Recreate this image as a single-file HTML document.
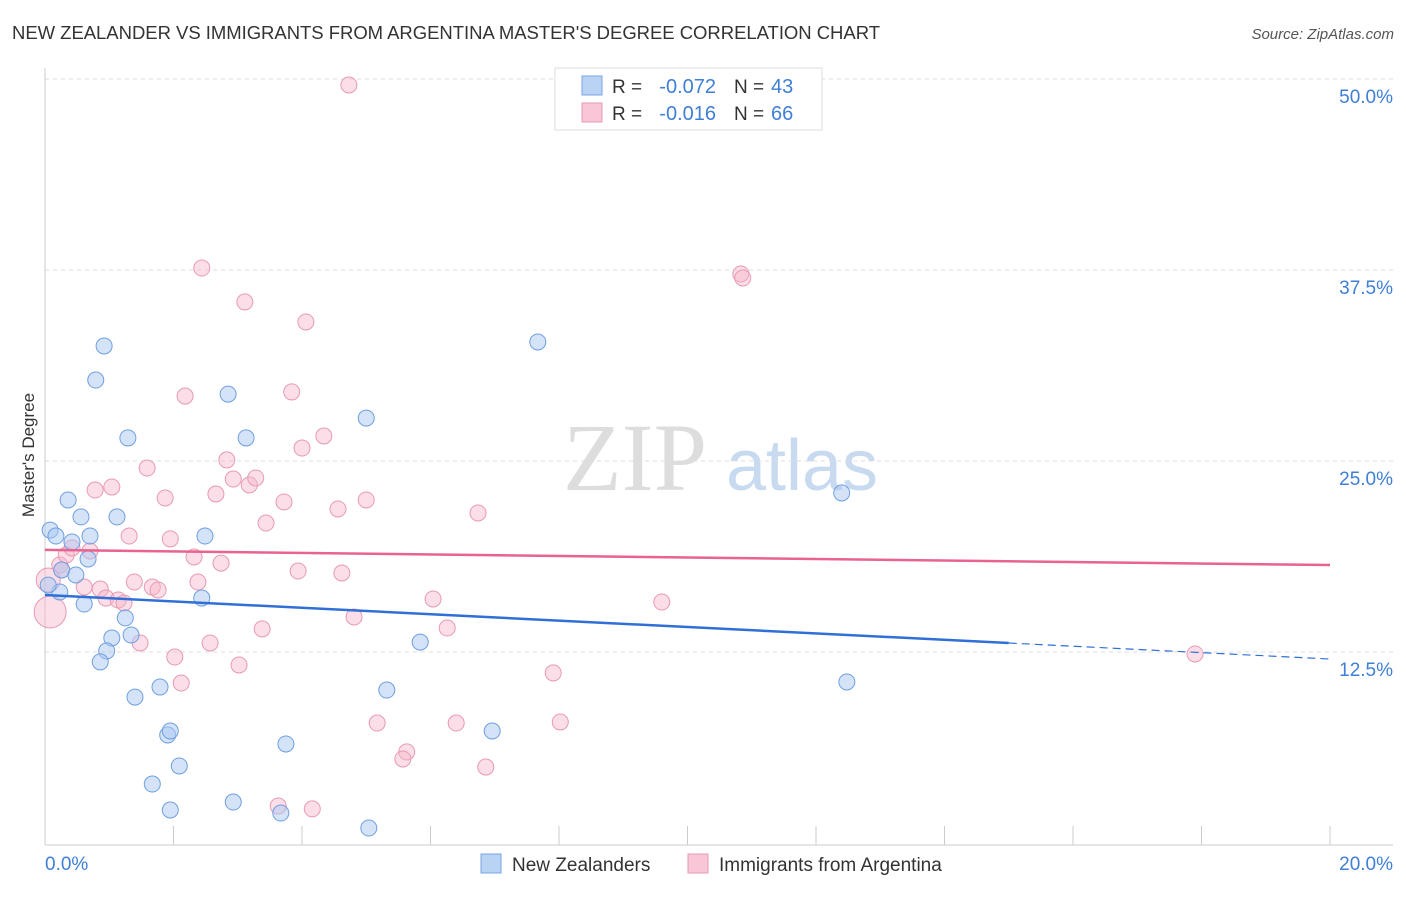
<!DOCTYPE html>
<html><head><meta charset="utf-8"><style>
body{margin:0;background:#fff;font-family:"Liberation Sans",sans-serif;}
</style></head><body>
<svg id="chart" width="1406" height="892" xmlns="http://www.w3.org/2000/svg">
<text x="12" y="39" font-size="18.5" fill="#333" textLength="868">NEW ZEALANDER VS IMMIGRANTS FROM ARGENTINA MASTER'S DEGREE CORRELATION CHART</text>
<text x="1394" y="39" font-size="15" fill="#555" font-style="italic" text-anchor="end">Source: ZipAtlas.com</text>
<g>
<text x="635" y="490" font-size="96" fill="#ddd" font-family="Liberation Serif" text-anchor="middle">ZIP</text>
<text x="802" y="490" font-size="72" fill="#c8daf0" text-anchor="middle">atlas</text>
</g>
<g id="grid"></g>
<g id="axes"></g>
<g id="marks"></g>
<text transform="translate(34,455) rotate(-90)" font-size="17" fill="#333" text-anchor="middle">Master's Degree</text>
<text x="45" y="870" font-size="19" fill="#3f7fd6">0.0%</text>
<text x="1393" y="870" font-size="19" fill="#3f7fd6" text-anchor="end">20.0%</text>
<g>
<rect x="555" y="68" width="267" height="62" fill="#fff" stroke="#ddd"/>
<rect x="582" y="76" width="20" height="19" fill="#b9d3f5" stroke="#7aa6e0"/>
<rect x="582" y="103" width="20" height="19" fill="#f8c6d6" stroke="#e89ab3"/>
<text x="612" y="93" font-size="19" fill="#333">R =</text>
<text x="716" y="93" font-size="20" fill="#3f7fd6" text-anchor="end">-0.072</text>
<text x="734" y="93" font-size="19" fill="#333">N =</text>
<text x="771" y="93" font-size="20" fill="#3f7fd6">43</text>
<text x="612" y="120" font-size="19" fill="#333">R =</text>
<text x="716" y="120" font-size="20" fill="#3f7fd6" text-anchor="end">-0.016</text>
<text x="734" y="120" font-size="19" fill="#333">N =</text>
<text x="771" y="120" font-size="20" fill="#3f7fd6">66</text>
</g>
<g>
<rect x="481" y="854" width="20" height="19" fill="#b9d3f5" stroke="#7aa6e0"/>
<text x="512" y="871" font-size="19" fill="#333">New Zealanders</text>
<rect x="688" y="854" width="20" height="19" fill="#f8c6d6" stroke="#e89ab3"/>
<text x="719" y="871" font-size="19" fill="#333">Immigrants from Argentina</text>
</g>
</svg>
<script>
const yTicks=[12.5,25,37.5,50];
const yTickLabels=["12.5%","25.0%","37.5%","50.0%"];
const blueX=[0.08,0.17,0.36,0.56,0.42,0.70,0.67,1.12,0.26,0.48,0.23,0.05,0.61,0.92,0.79,1.29,1.25,1.04,0.96,0.86,1.34,1.40,1.79,1.91,1.95,2.09,1.67,1.95,2.44,2.49,2.85,3.13,2.93,3.67,3.75,5.00,5.04,5.32,5.84,6.96,7.67,12.40,12.48];
const blueY=[20.48,20.09,22.45,21.34,19.70,20.09,18.59,21.34,17.87,17.54,16.43,16.88,15.64,32.53,30.30,26.51,14.73,13.42,12.57,11.85,13.61,9.55,10.21,7.07,7.33,5.04,3.86,2.16,16.03,20.09,29.38,26.51,2.68,1.96,6.48,27.81,0.98,10.01,13.15,7.33,32.79,22.91,10.54];
const pinkX=[4.73,2.44,3.11,4.06,2.18,3.84,2.83,4.00,4.34,1.59,0.78,1.04,1.87,2.66,2.93,3.18,3.28,3.72,3.44,4.56,5.00,6.74,1.31,1.95,0.23,0.33,0.42,0.70,2.32,2.74,3.94,4.62,2.38,1.39,1.67,0.61,0.86,1.76,0.95,1.14,1.23,3.38,2.57,1.48,2.02,3.02,2.12,4.81,6.04,6.26,5.17,6.40,8.02,7.91,5.63,5.57,6.86,3.63,4.16,9.60,10.83,10.86,17.90,0.26,0.08,0.05];
const pinkY=[49.61,37.63,35.41,34.10,29.25,29.52,25.07,25.85,26.64,24.54,23.10,23.30,22.58,22.84,23.82,23.43,23.89,22.32,20.94,21.86,22.45,21.60,20.09,19.90,18.19,18.85,19.31,19.11,18.72,18.32,17.80,17.67,17.08,17.08,16.75,16.75,16.62,16.56,16.03,15.90,15.71,14.01,13.09,13.09,12.17,11.65,10.47,14.79,15.97,14.07,7.85,7.85,7.92,11.13,5.96,5.50,4.97,2.42,2.23,15.77,37.24,36.98,12.37,17.87,15.12,17.21];
const pinkR=[];pinkR[64]=16;pinkR[65]=12;
const blueTrend=[16.23,12.04];
const pinkTrend=[19.18,18.19];
const blueSolidEnd=15.0;
const NS="http://www.w3.org/2000/svg";
const X=v=>45+v*64.25, Y=v=>843-v*15.28;
function mk(tag,attrs,parent){const e=document.createElementNS(NS,tag);for(const k in attrs)e.setAttribute(k,attrs[k]);parent.appendChild(e);return e;}
const grid=document.getElementById('grid'),axes=document.getElementById('axes'),marks=document.getElementById('marks');
yTicks.forEach((t,i)=>{
 const l=mk('line',{x1:45,x2:1393,y1:Y(t),y2:Y(t),stroke:'#ddd','stroke-dasharray':'4,4'},grid);
 
 
 const tx=mk('text',{x:1393,y:Y(t)+24,'font-size':19,fill:'#3f7fd6','text-anchor':'end'},grid);
 tx.textContent=yTickLabels[i];
 
 
});
mk('line',{x1:45,x2:45,y1:68,y2:845,stroke:'#ccc'},axes);
mk('line',{x1:45,x2:1393,y1:845,y2:845,stroke:'#ccc'},axes);
for(let i=0;i<=10;i++){
 const t=mk('line',{x1:X(i*2),x2:X(i*2),y1:826,y2:845,stroke:'#ccc'},axes);
 
 
}
function dots(xs,ys,fill,stroke,name,rs){
 xs.forEach((x,i)=>{
  const c=mk('circle',{cx:X(x),cy:Y(ys[i]),r:(rs&&rs[i])||8,fill:fill,stroke:stroke,'stroke-width':1},marks);
  
  
 });
}
dots(pinkX,pinkY,'rgba(246,182,202,0.45)','#e89ab3','argentina-point',pinkR);
dots(blueX,blueY,'rgba(170,200,242,0.5)','#6f9fe0','new-zealander-point');
const slope=(blueTrend[1]-blueTrend[0])/20;
const b1=mk('line',{x1:X(0),y1:Y(blueTrend[0]),x2:X(blueSolidEnd),y2:Y(blueTrend[0]+slope*blueSolidEnd),stroke:'#2f6fd6','stroke-width':2.5},marks);


const b2=mk('line',{x1:X(blueSolidEnd),y1:Y(blueTrend[0]+slope*blueSolidEnd),x2:X(20),y2:Y(blueTrend[1]),stroke:'#2f6fd6','stroke-width':1.2,'stroke-dasharray':'8,5'},marks);


const p1=mk('line',{x1:X(0),y1:Y(pinkTrend[0]),x2:X(20),y2:Y(pinkTrend[1]),stroke:'#e8638f','stroke-width':2.5},marks);


</script>
</body></html>
